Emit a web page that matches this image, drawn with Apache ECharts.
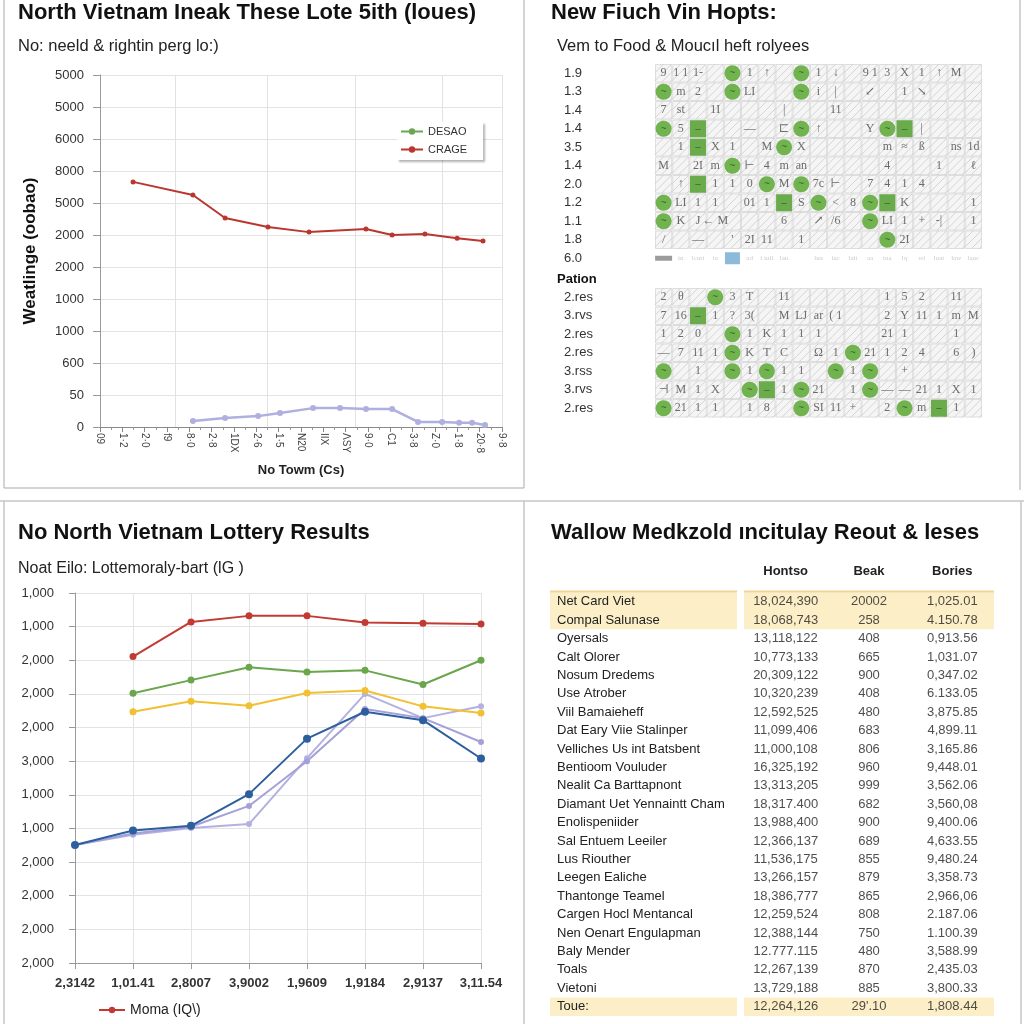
<!DOCTYPE html>
<html><head><meta charset="utf-8">
<script src="https://cdn.jsdelivr.net/npm/echarts@6/dist/echarts.min.js"></script>
<style>html,body{margin:0;padding:0;background:#fff}#c{width:1024px;height:1024px}</style>
</head><body><div id="c"></div>
<script>
// ---------- Panel 1 (top-left) ----------
const titleTL = 'North Vietnam Ineak These Lote 5ith (loues)';
const subTL = 'No: neeld & rightin perg lo:)';
const yLabelsTL = ['5000','5000','6000','8000','5000','2000','2000','1000','1000','600','50','0'];
const xLabelsTL = ['09','1·2','2·0','f9','8·0','2·8','1DX','2·6','1·5','N20','IIX','ΛSY','9·0','C1','3·8','Z·0','1·8','20·8','9·8'];
const crageX = [1.48, 4.16, 5.60, 7.52, 9.36, 11.91, 13.08, 14.55, 15.99, 17.15];
const crageY = [7.66, 7.25, 6.53, 6.25, 6.09, 6.19, 6.00, 6.03, 5.90, 5.81];
const lilacX = [4.16, 5.60, 7.08, 8.06, 9.54, 10.75, 11.91, 13.08, 14.24, 15.32, 16.08, 16.66, 17.24];
const lilacY = [0.19, 0.28, 0.34, 0.44, 0.59, 0.59, 0.56, 0.56, 0.16, 0.16, 0.13, 0.13, 0.06];
const vGridTL = [3.36, 7.48, 11.42, 15.31, 18];

// ---------- Panel 2 (top-right) ----------
const titleTR = 'New Fiuch Vin Hopts:';
const subTR = 'Vem to Food & Mouc\u0131l heft rolyees';
const rowsA = ['1.9','1.3','1.4','1.4','3.5','1.4','2.0','1.2','1.1','1.8','6.0'];
const rowsB = ['2.res','3.rvs','2.res','2.res','3.rss','3.rvs','2.res'];
const circlesA = [[4,0],[8,0],[0,1],[4,1],[8,1],[0,3],[8,3],[13,3],[7,4],[4,5],[6,6],[8,6],[0,7],[9,7],[12,7],[0,8],[12,8],[13,9]];
const squaresA = [[2,3],[14,3],[2,4],[2,6],[7,7],[13,7]];
const circlesB = [[3,0],[4,2],[4,3],[11,3],[0,4],[4,4],[6,4],[10,4],[12,4],[5,5],[8,5],[12,5],[0,6],[8,6],[14,6]];
const squaresB = [[2,1],[6,5],[16,6]];
const glyphsA = [
  ['9','1 1','1-','','','1','↑','','','1','↓','','9 1','3','X','1','↑','M',''],
  ['','m','2','','','LI','','','','i','|','','↙','','1','↘','','',''],
  ['7','st','','1I','','','','|','','','11','','','','','','','',''],
  ['','5','','','','—','','⊏','','↑','','','Y','','','|','','',''],
  ['','1','','X','1','','M','','X','','','','','m','≈','ß','','ns','1d'],
  ['M','','2I','m','','⊢','4','m','an','','','','','4','','','1','','ℓ'],
  ['','↑','','1','1','0','','M','','7c','⊢','','7','4','1','4','','',''],
  ['','LI','1','1','','01','1','','S','','<','8','','','K','','','','1'],
  ['','K','J','← M','','','','6','','↗','/6','','','LI','1','+','-|','','1'],
  ['/','','—','','\'','2I','11','','1','','','','','','2I','','','','']
];
const glyphsStrip = ['','in','lcurt','ta','','ad','i iuil','lau','','lua','iac','lait','aa','tua','lq','wi','luat','law','lauc'];
const stripGray = [[0,10]];
const stripBlue = [[4,10]];
const glyphsB = [
  ['2','θ','','','3','T','','11','','','','','','1','5','2','','11',''],
  ['7','16','','1','?','3(','','M','LJ','ar','( 1','','','2','Y','11','1','m','M'],
  ['1','2','0','','','1','K','1','1','1','','','','21','1','','','1',''],
  ['—','7','11','1','','K','T','C','','Ω','1','','21','1','2','4','','6',')'],
  ['','','1','','','1','','1','1','','','1','','','+','','','',''],
  ['⊣','M','1','X','','','','1','','21','','1','','—','—','21','1','X','1'],
  ['','21','1','1','','1','8','','','SI','11','+','','2','','m','','1','']
];

// ---------- Panel 3 (bottom-left) ----------
const titleBL = 'No North Vietnam Lottery Results';
const subBL = 'Noat Eilo: Lottemoraly-bart (lG )';
const xLabelsBL = ['2,3142','1,01.41','2,8007','3,9002','1,9609','1,9184','2,9137','3,11.54'];
const yLabelsBL = ['1,000','1,000','2,000','2,000','2,000','3,000','1,000','1,000','2,000','2,000','2,000','2,000'];
const redBL    = [null, 9.11, 10.14, 10.32, 10.32, 10.12, 10.10, 10.08];
const greenBL  = [null, 8.02, 8.41, 8.79, 8.65, 8.70, 8.28, 9.00];
const yellowBL = [null, 7.47, 7.78, 7.65, 8.03, 8.10, 7.63, 7.43];
const blueBL   = [3.51, 3.94, 4.08, 5.02, 6.67, 7.47, 7.22, 6.08];
const lavABL   = [3.51, 3.81, 4.01, 4.13, 6.09, 8.00, 7.28, 7.63];
const lavBBL   = [3.51, 3.85, 4.05, 4.67, 6.00, 7.55, 7.28, 6.57];
const legendBL = 'Moma (IQ\\)';

// ---------- Panel 4 (bottom-right table) ----------
const titleBR = 'Wallow Medkzold \u0131ncitulay Reout & leses';
const colHeads = ['Hontso','Beak','Bories'];
const rowNames = ['Net Card Viet','Compal Salunase','Oyersals','Calt Olorer','Nosum Dredems','Use Atrober','Viil Bamaieheff','Dat Eary Viie Stalinper','Velliches Us int Batsbent','Bentioom Vouluder','Nealit Ca Barttapnont','Diamant Uet Yennaintt Cham','Enolispeniider','Sal Entuem Leeiler','Lus Riouther','Leegen Ealiche','Thantonge Teamel','Cargen Hocl Mentancal','Nen Oenart Engulapman','Baly Mender','Toals','Vietoni','Toue:'];
const hontso = ['18,024,390','18,068,743','13,118,122','10,773,133','20,309,122','10,320,239','12,592,525','11,099,406','11,000,108','16,325,192','13,313,205','18,317.400','13,988,400','12,366,137','11,536,175','13,266,157','18,386,777','12,259,524','12,388,144','12.777.115','12,267,139','13,729,188','12,264,126'];
const beak = ['20002','258','408','665','900','408','480','683','806','960','999','682','900','689','855','879','865','808','750','480','870','885','29\'.10'];
const bories = ['1,025.01','4.150.78','0,913.56','1,031.07','0,347.02','6.133.05','3,875.85','4,899.11','3,165.86','9,448.01','3,562.06','3,560,08','9,400.06','4,633.55','9,480.24','3,358.73','2,966,06','2.187.06','1.100.39','3,588.99','2,435.03','3,800.33','1,808.44'];
const highlightRows = [0, 1, 22];

const FONT = "'Liberation Sans', Arial, sans-serif";
const chart = echarts.init(document.getElementById('c'), null, {renderer: 'canvas'});

function t(text, left, top, size, bold) {
  return {text, left, top, padding: 0, textStyle: {fontFamily: FONT, fontSize: size, fontWeight: bold ? 'bold' : 'normal', color: bold ? '#111' : '#222'}};
}
function baseGrid(left, top, width, height) {
  return {left, top, width, height, containLabel: false, outerBoundsMode: 'none', show: false};
}
function renderCell(params, api) {
  const c = api.coord([api.value(0), api.value(1)]);
  const s = api.size([1, 1]);
  const w = s[0], h = s[1];
  const x = c[0] - w / 2, y = c[1] - h / 2;
  const children = [{type: 'rect', shape: {x: x + 0.5, y: y + 0.5, width: w - 1, height: h - 1}, style: {fill: '#f5f5f5', stroke: '#dedede', lineWidth: 1}}];
  for (let k = -w + 3; k < h; k += 8) {
    const u1 = Math.max(0, -k), u2 = Math.min(w, h - k);
    if (u2 - u1 < 1) continue;
    children.push({type: 'line', shape: {x1: x + u1, y1: y + h - (u1 + k), x2: x + u2, y2: y + h - (u2 + k)}, style: {stroke: '#d5d5d5', lineWidth: 1}});
  }
  return {type: 'group', children};
}
function cellData(nRows) {
  const d = [];
  for (let r = 0; r < nRows; r++) for (let c = 0; c < 19; c++) d.push([c, r]);
  return d;
}
function glyphData(rows, rowOffset) {
  const d = [];
  rows.forEach((row, r) => row.forEach((g, c) => { if (g) d.push({value: [c, r + rowOffset], name: g}); }));
  return d;
}
function glyphSeries(xi, data, color, size) {
  return {type: 'scatter', xAxisIndex: xi, yAxisIndex: xi, data, symbolSize: 1, silent: true, z: 4,
    itemStyle: {color: 'rgba(0,0,0,0)'},
    label: {show: true, position: 'inside', formatter: '{b}', fontFamily: "'Liberation Serif', 'DejaVu Serif', serif", fontSize: size, color}};
}
function markSeries(xi, data, symbol, size, color, glyph) {
  return {type: 'scatter', xAxisIndex: xi, yAxisIndex: xi, data, symbol, symbolSize: size, silent: true, z: 5,
    itemStyle: {color, opacity: 1},
    label: {show: true, position: 'inside', formatter: glyph, color: '#3a6a25', fontSize: 10, fontFamily: FONT}};
}
function renderHighlight(params, api) {
  const row = api.value(1);
  const c = api.coord([0, row]);
  const h = api.size([0, 1])[1];
  const cs = params.coordSys;
  const y = c[1] - h / 2;
  const children = [{type: 'rect', shape: {x: cs.x, y: y, width: cs.width, height: h}, style: {fill: '#fcefc8'}}];
  if (row === 0) children.push({type: 'rect', shape: {x: cs.x, y: y - 2, width: cs.width, height: 2}, style: {fill: '#efd496'}});
  return {type: 'group', children};
}
const tableData = [];
rowNames.forEach((n, i) => {
  tableData.push({value: [0, i], name: hontso[i]});
  tableData.push({value: [1, i], name: beak[i]});
  tableData.push({value: [2, i], name: bories[i]});
});
const highlightData = highlightRows.map(r => [0, r]);

const axisGray = '#9a9a9a';
const splitGray = '#e3e3e3';

const option = {
  animation: false,
  backgroundColor: '#ffffff',
  title: [
    t(titleTL, 18, 2, 22, true),
    t(subTL, 18, 38, 16.5, false),
    t(titleTR, 551, 2, 22, true),
    t(subTR, 557, 38, 16.5, false),
    t('Pation', 557, 273, 13, true),
    t(titleBL, 18, 522, 22, true),
    t(subBL, 18, 561, 16, false),
    t(titleBR, 551, 522, 22, true)
  ],
  graphic: [
    {type: 'line', shape: {x1: 4, y1: 0, x2: 4, y2: 488}, style: {stroke: '#c6c6c6', lineWidth: 1.5}},
    {type: 'line', shape: {x1: 4, y1: 488, x2: 524, y2: 488}, style: {stroke: '#c6c6c6', lineWidth: 1.5}},
    {type: 'line', shape: {x1: 524, y1: 0, x2: 524, y2: 488}, style: {stroke: '#c6c6c6', lineWidth: 1.5}},
    {type: 'line', shape: {x1: 1020, y1: 0, x2: 1020, y2: 490}, style: {stroke: '#c6c6c6', lineWidth: 1.5}},
    {type: 'line', shape: {x1: 0, y1: 501, x2: 1024, y2: 501}, style: {stroke: '#c6c6c6', lineWidth: 1.5}},
    {type: 'line', shape: {x1: 4, y1: 501, x2: 4, y2: 1024}, style: {stroke: '#c6c6c6', lineWidth: 1.5}},
    {type: 'line', shape: {x1: 524, y1: 501, x2: 524, y2: 1024}, style: {stroke: '#c6c6c6', lineWidth: 1.5}},
    {type: 'line', shape: {x1: 1021, y1: 501, x2: 1021, y2: 1024}, style: {stroke: '#c6c6c6', lineWidth: 1.5}}
  ],
  legend: [
    {data: ['DESAO', 'CRAGE'], orient: 'vertical', left: 397, top: 122, itemWidth: 22, itemHeight: 8, itemGap: 7,
      padding: [4, 16, 5, 3], backgroundColor: '#fff', shadowColor: 'rgba(0,0,0,0.3)', shadowBlur: 2, shadowOffsetX: 2, shadowOffsetY: 2,
      textStyle: {fontFamily: FONT, fontSize: 11, color: '#333'}},
    {data: [legendBL], left: 93, top: 998, itemWidth: 26, itemHeight: 8,
      textStyle: {fontFamily: FONT, fontSize: 14, color: '#222'}}
  ],
  grid: [
    baseGrid(100, 75, 402, 352),
    baseGrid(655, 64, 327, 203.5),
    baseGrid(655, 288, 327, 129.5),
    baseGrid(75, 593, 406, 370),
    baseGrid(550, 592.5, 187, 423.4),
    baseGrid(744, 592.5, 250, 423.4)
  ],
  xAxis: [
    {gridIndex: 0, type: 'value', min: 0, max: 18, interval: 1,
      name: 'No Towm (Cs)', nameLocation: 'middle', nameGap: 37,
      nameTextStyle: {fontFamily: FONT, fontSize: 13, fontWeight: 'bold', color: '#222'},
      axisLine: {show: true, lineStyle: {color: '#888'}},
      axisTick: {show: true, length: 5, lineStyle: {color: '#888'}},
      minorTick: {show: true, splitNumber: 2, length: 3, lineStyle: {color: '#999'}},
      axisLabel: {rotate: -90, fontFamily: FONT, fontSize: 10, color: '#444', margin: 6, formatter: v => xLabelsTL[v]},
      splitLine: {show: false}},
    {gridIndex: 1, type: 'category', data: xLabelsTL.map((_, i) => i), show: false},
    {gridIndex: 2, type: 'category', data: xLabelsTL.map((_, i) => i), show: false},
    {gridIndex: 3, type: 'category', data: xLabelsBL, boundaryGap: false,
      axisLine: {show: true, lineStyle: {color: axisGray}},
      axisTick: {show: true, length: 6, lineStyle: {color: axisGray}},
      axisLabel: {fontFamily: FONT, fontSize: 13, fontWeight: 'bold', color: '#333', margin: 14},
      splitLine: {show: true, lineStyle: {color: splitGray}}},
    {gridIndex: 4, type: 'category', data: ['n'], show: false},
    {gridIndex: 5, type: 'category', data: colHeads, position: 'top',
      axisLine: {show: false}, axisTick: {show: false},
      axisLabel: {fontFamily: FONT, fontSize: 13, fontWeight: 'bold', color: '#222', margin: 15}}
  ],
  yAxis: [
    {gridIndex: 0, type: 'value', min: 0, max: 11, interval: 1,
      name: 'Weatlinge (oobao)', nameLocation: 'middle', nameGap: 61, nameRotate: 90,
      nameTextStyle: {fontFamily: FONT, fontSize: 17, fontWeight: 'bold', color: '#111'},
      axisLine: {show: true, lineStyle: {color: axisGray}},
      axisTick: {show: true, length: 7, lineStyle: {color: axisGray}},
      axisLabel: {fontFamily: FONT, fontSize: 13, color: '#333', margin: 16, formatter: v => yLabelsTL[11 - v]},
      splitLine: {show: true, lineStyle: {color: splitGray}}},
    {gridIndex: 1, type: 'category', data: rowsA, inverse: true,
      axisLine: {show: false}, axisTick: {show: false},
      axisLabel: {align: 'left', margin: 91, fontFamily: FONT, fontSize: 13, color: '#333'}},
    {gridIndex: 2, type: 'category', data: rowsB, inverse: true,
      axisLine: {show: false}, axisTick: {show: false},
      axisLabel: {align: 'left', margin: 91, fontFamily: FONT, fontSize: 13, color: '#333'}},
    {gridIndex: 3, type: 'value', min: 0, max: 11, interval: 1,
      axisLine: {show: true, lineStyle: {color: axisGray}},
      axisTick: {show: true, length: 6, lineStyle: {color: axisGray}},
      axisLabel: {fontFamily: FONT, fontSize: 13, color: '#333', margin: 21, formatter: v => yLabelsBL[11 - v]},
      splitLine: {show: true, lineStyle: {color: splitGray}}},
    {gridIndex: 4, type: 'category', data: rowNames, inverse: true,
      axisLine: {show: false}, axisTick: {show: false},
      axisLabel: {inside: true, margin: 7, fontFamily: FONT, fontSize: 13, color: '#222'}},
    {gridIndex: 5, type: 'category', data: rowNames, inverse: true, show: false}
  ],
  series: [
    // top-left
    {name: 'DESAO', type: 'line', xAxisIndex: 0, yAxisIndex: 0, data: [], color: '#6aa84f', symbol: 'circle', symbolSize: 5},
    {name: 'lilac', type: 'line', xAxisIndex: 0, yAxisIndex: 0, data: lilacX.map((x, i) => [x, lilacY[i]]),
      color: '#aeb0df', lineStyle: {width: 2.5}, symbol: 'circle', symbolSize: 6, z: 3,
      markLine: {silent: true, symbol: ['none', 'none'], label: {show: false}, lineStyle: {color: '#e2e2e2', type: 'solid', width: 1}, z: 1,
        data: vGridTL.map(v => ({xAxis: v}))}},
    {name: 'CRAGE', type: 'line', xAxisIndex: 0, yAxisIndex: 0, data: crageX.map((x, i) => [x, crageY[i]]),
      color: '#b9372f', lineStyle: {width: 2}, symbol: 'circle', symbolSize: 5, z: 4},
    // top-right grid A
    {type: 'custom', xAxisIndex: 1, yAxisIndex: 1, data: cellData(10), renderItem: renderCell, silent: true, z: 1},
    glyphSeries(1, glyphData(glyphsA, 0), '#4a4a4a', 12),
    glyphSeries(1, glyphData([glyphsStrip], 10), '#bdbdbd', 7),
    markSeries(1, circlesA, 'circle', 16, '#70b34f', '~'),
    markSeries(1, squaresA, 'rect', [16, 17], '#6aab4c', '–'),
    markSeries(1, stripGray, 'rect', [17, 5], '#9c9c9c', ''),
    markSeries(1, stripBlue, 'rect', [15, 12], '#8cbadb', ''),
    // top-right grid B
    {type: 'custom', xAxisIndex: 2, yAxisIndex: 2, data: cellData(7), renderItem: renderCell, silent: true, z: 1},
    glyphSeries(2, glyphData(glyphsB, 0), '#4a4a4a', 12),
    markSeries(2, circlesB, 'circle', 16, '#70b34f', '~'),
    markSeries(2, squaresB, 'rect', [16, 17], '#6aab4c', '–'),
    // bottom-left
    {name: 'lavA', type: 'line', xAxisIndex: 3, yAxisIndex: 3, data: lavABL, color: '#b3b0e2', lineStyle: {width: 2}, symbol: 'circle', symbolSize: 6},
    {name: 'lavB', type: 'line', xAxisIndex: 3, yAxisIndex: 3, data: lavBBL, color: '#a4a1d8', lineStyle: {width: 2}, symbol: 'circle', symbolSize: 6},
    {name: 'yellow', type: 'line', xAxisIndex: 3, yAxisIndex: 3, data: yellowBL, color: '#f1c033', lineStyle: {width: 2}, symbol: 'circle', symbolSize: 7},
    {name: 'green', type: 'line', xAxisIndex: 3, yAxisIndex: 3, data: greenBL, color: '#6aa64b', lineStyle: {width: 2}, symbol: 'circle', symbolSize: 7},
    {name: 'blue', type: 'line', xAxisIndex: 3, yAxisIndex: 3, data: blueBL, color: '#2d5e9e', lineStyle: {width: 2}, symbol: 'circle', symbolSize: 8},
    {name: legendBL, type: 'line', xAxisIndex: 3, yAxisIndex: 3, data: redBL, color: '#c23b33', lineStyle: {width: 2}, symbol: 'circle', symbolSize: 7},
    // bottom-right table
    {type: 'custom', xAxisIndex: 4, yAxisIndex: 4, data: highlightData, renderItem: renderHighlight, silent: true, z: 0},
    {type: 'custom', xAxisIndex: 5, yAxisIndex: 5, data: highlightData, renderItem: renderHighlight, silent: true, z: 0},
    {type: 'scatter', xAxisIndex: 5, yAxisIndex: 5, data: tableData, symbolSize: 1, silent: true, z: 3,
      itemStyle: {color: 'rgba(0,0,0,0)'},
      label: {show: true, position: 'inside', formatter: '{b}', fontFamily: FONT, fontSize: 13, color: '#222'}}
  ]
};
chart.setOption(option);
</script>
</body></html>
